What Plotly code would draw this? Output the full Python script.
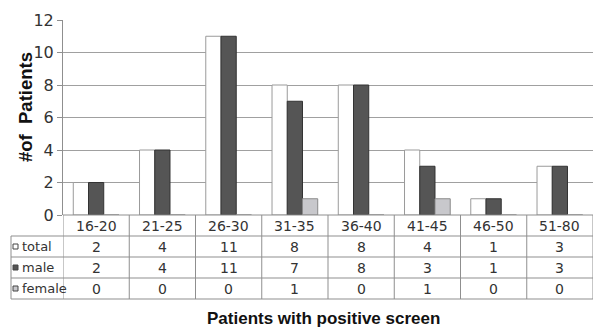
import plotly.graph_objects as go

categories = ["16-20", "21-25", "26-30", "31-35", "36-40", "41-45", "46-50", "51-80"]
total = [2, 4, 11, 8, 8, 4, 1, 3]
male = [2, 4, 11, 7, 8, 3, 1, 3]
female = [0, 0, 0, 1, 0, 1, 0, 0]
y_ticks = [0, 2, 4, 6, 8, 10, 12]

W, H = 593, 327
L, R, T, B = 63, 0, 20, 112
PW, PH = W - L - R, H - T - B

def px(x):
    return (x - L) / PW

def py(y):
    return (H - B - y) / PH

series = [
    ("total", total, "#ffffff", "#9a9a9a"),
    ("male", male, "#555555", "#333333"),
    ("female", female, "#c8c8cc", "#8a8a8a"),
]

fig = go.Figure()
for name, vals, fill, line in series:
    fig.add_trace(go.Bar(x=categories, y=vals, name=name,
                         marker=dict(color=fill, line=dict(color=line, width=1))))

shapes = []
annotations = []
FONT = "DejaVu Sans"
LINE = "#8f8f8f"

# table horizontal lines
row_edges = [215, 236, 257, 278, 299]
for i, yy in enumerate(row_edges):
    x0 = px(63) if i == 0 else px(11)
    shapes.append(dict(type="line", xref="paper", yref="paper", x0=x0, x1=1,
                       y0=py(yy), y1=py(yy), line=dict(color=LINE, width=1)))
# vertical lines at category boundaries
for i in range(len(categories) + 1):
    shapes.append(dict(type="line", xref="x", yref="paper", x0=i - 0.5, x1=i - 0.5,
                       y0=py(215), y1=py(299), line=dict(color=LINE, width=1)))
shapes.append(dict(type="line", xref="paper", yref="paper", x0=px(11), x1=px(11),
                   y0=py(236), y1=py(299), line=dict(color=LINE, width=1)))

def ann(**kw):
    base = dict(showarrow=False, xanchor="center", yanchor="middle")
    base.update(kw)
    annotations.append(base)

# header row: category labels
for c in categories:
    ann(x=c, xref="x", y=py(225.5), yref="paper", text=c,
        font=dict(family=FONT, size=14, color="#333"))

row_centers = [246.5, 267.5, 288.5]
for (name, vals, fill, line), yc in zip(series, row_centers):
    shapes.append(dict(type="rect", xref="paper", yref="paper",
                       x0=px(13), x1=px(18), y0=py(yc - 2.5), y1=py(yc + 2.5),
                       fillcolor=fill, line=dict(color="#444", width=1)))
    ann(x=px(20), xref="paper", xanchor="left", y=py(yc), yref="paper",
        text=name, font=dict(family=FONT, size=13, color="#333"))
    for c, v in zip(categories, vals):
        ann(x=c, xref="x", y=py(yc), yref="paper", text=str(v),
            font=dict(family=FONT, size=14, color="#333"))

ann(x=px(323), xref="paper", y=py(318.5), yref="paper",
    text="<b>Patients with positive screen</b>",
    font=dict(family="Liberation Sans", size=17, color="#111"))
ann(x=px(25.5), xref="paper", y=py(107.5), yref="paper",
    text="<b>#of&nbsp; Patients</b>", textangle=-90,
    font=dict(family="Liberation Sans", size=18.5, color="#111"))

fig.update_layout(
    width=W, height=H,
    margin=dict(l=L, r=R, t=T, b=B),
    paper_bgcolor="white", plot_bgcolor="white",
    barmode="group", bargap=0.31, bargroupgap=0,
    showlegend=False,
    shapes=shapes, annotations=annotations,
    xaxis=dict(showticklabels=False, showgrid=False, ticks="", showline=False,
               range=[-0.5, len(categories) - 0.5]),
    yaxis=dict(range=[0, 12], tickvals=y_ticks, showgrid=True, gridcolor="#a0a0a0",
               gridwidth=1, showline=True, linecolor=LINE, ticks="outside", ticklen=5,
               tickcolor=LINE, zeroline=False,
               tickfont=dict(family=FONT, size=16, color="#333")),
)

fig.write_html("out.html", config={"displayModeBar": False},
               post_script="document.body.style.margin='0';document.body.style.overflow='hidden';")
